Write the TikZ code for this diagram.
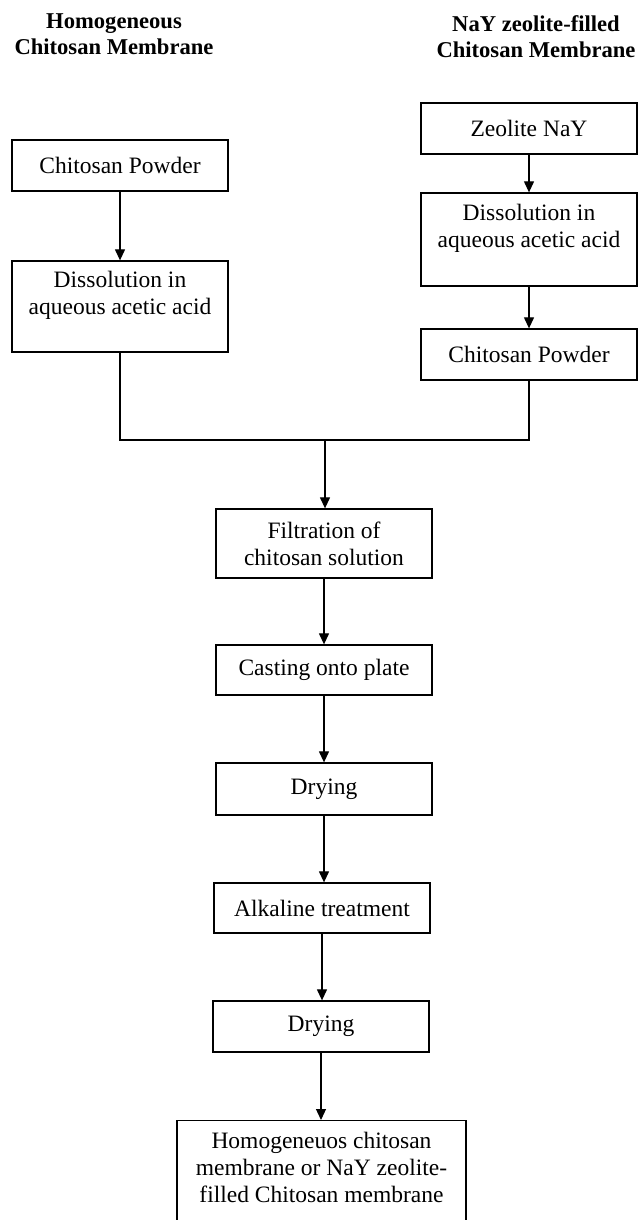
\documentclass[tikz,border=0pt]{standalone}
\usepackage{fontspec}
\setmainfont{Liberation Serif}
\usetikzlibrary{arrows.meta}
\begin{document}
\begin{tikzpicture}[x=1pt,y=-1pt,
  >={Triangle[length=11pt,width=10pt]},
  stepbox/.style={draw,line width=1.3pt,minimum width=216pt,minimum height=51pt,
    align=center,font=\fontsize{23.5}{27}\selectfont},
  headtext/.style={align=center,inner sep=0pt,font=\fontsize{22.6}{26}\selectfont\bfseries},
  flow/.style={draw,line width=1.2pt}]
\useasboundingbox (0,0) rectangle (639,1220);
\clip (0,0) rectangle (639,1220);

\node[headtext] (headL) at (114,34) {Homogeneous\\Chitosan Membrane};
\node[headtext] (headR) at (536,37) {NaY zeolite-filled\\Chitosan Membrane};

\node[stepbox] (chitL) at (120,165.5) {Chitosan Powder};
\node[stepbox,minimum height=91pt] (dissL) at (120,306.5) {Dissolution in\\aqueous acetic acid\\~};

\node[stepbox] (zeo) at (529,128.5) {Zeolite NaY};
\node[stepbox,minimum height=93pt] (dissR) at (529,239.5) {Dissolution in\\aqueous acetic acid\\~};
\node[stepbox] (chitR) at (529,354.5) {Chitosan Powder};

\node[stepbox,minimum height=69pt] (filt) at (324,543.5) {Filtration of\\chitosan solution};
\node[stepbox,minimum height=50pt] (cast) at (324,670) {Casting onto plate};
\node[stepbox,minimum height=52pt] (dry1) at (324,789) {Drying};
\node[stepbox,minimum height=50pt] (alk) at (322,908) {Alkaline treatment};
\node[stepbox] (dry2) at (321,1026.5) {Drying};
\node[stepbox,minimum width=289pt,inner ysep=12pt,anchor=north] (final) at (321.5,1120)
  {Homogeneuos chitosan\\membrane or NaY zeolite-\\filled Chitosan membrane\\~};

\coordinate (join) at (325,440);

\path[flow,->] (chitL.south) -- (chitL.south |- dissL.north);
\path[flow,->] (zeo.south) -- (zeo.south |- dissR.north);
\path[flow,->] (dissR.south) -- (dissR.south |- chitR.north);

\path[flow] (dissL.south) |- (join) -| (chitR.south);
\path[flow,->] (join) -- (join |- filt.north);

\path[flow,->] (filt.south) -- (filt.south |- cast.north);
\path[flow,->] (cast.south) -- (cast.south |- dry1.north);
\path[flow,->] (dry1.south) -- (dry1.south |- alk.north);
\path[flow,->] (alk.south) -- (alk.south |- dry2.north);
\path[flow,->] (dry2.south) -- (dry2.south |- final.north);
\end{tikzpicture}
\end{document}
